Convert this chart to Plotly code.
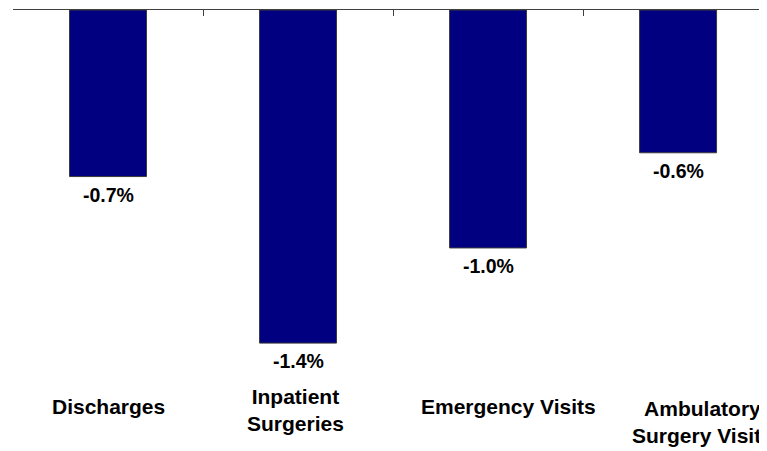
import plotly.graph_objects as go

categories = ["Discharges", "Inpatient<br>Surgeries", "Emergency Visits", "Ambulatory<br>Surgery Visits"]
values = [-0.7, -1.4, -1.0, -0.6]
value_labels = ["-0.7%", "-1.4%", "-1.0%", "-0.6%"]

# label placement offsets (pixels) - style only
label_xshift = [0, -3, 20, 24]
label_yshift = [-26, -30, -26, -42]

FONT = "Liberation Sans, Arial, sans-serif"

fig = go.Figure()
fig.add_trace(go.Bar(
    x=categories, y=values, width=0.405,
    marker=dict(color="#000080", line=dict(color="#3a3a3a", width=1)),
    hoverinfo="skip",
))

annotations = []
for c, v, t in zip(categories, values, value_labels):
    annotations.append(dict(x=c, y=v, xref="x", yref="y", text="<b>%s</b>" % t,
                            showarrow=False, yanchor="middle", yshift=-18,
                            font=dict(family=FONT, size=19.5, color="black")))
for c, xs, ys in zip(categories, label_xshift, label_yshift):
    annotations.append(dict(x=c, y=0, xref="x", yref="paper", text="<b>%s</b>" % c,
                            showarrow=False, yanchor="middle", xshift=xs, yshift=ys,
                            font=dict(family=FONT, size=21, color="black")))

fig.update_layout(
    width=759, height=443,
    margin=dict(l=5, r=0, t=2, b=71),
    paper_bgcolor="white", plot_bgcolor="white",
    showlegend=False,
    xaxis=dict(type="category", side="top", showline=True, linecolor="#404040", linewidth=1,
               ticks="inside", tickson="boundaries", ticklen=6, tickcolor="#404040",
               showticklabels=False, showgrid=False, zeroline=False,
               range=[-0.5, 3.468]),
    yaxis=dict(visible=False, range=[-1.555, 0], showgrid=False, zeroline=False),
    annotations=annotations,
)

fig.write_html("out.html")
